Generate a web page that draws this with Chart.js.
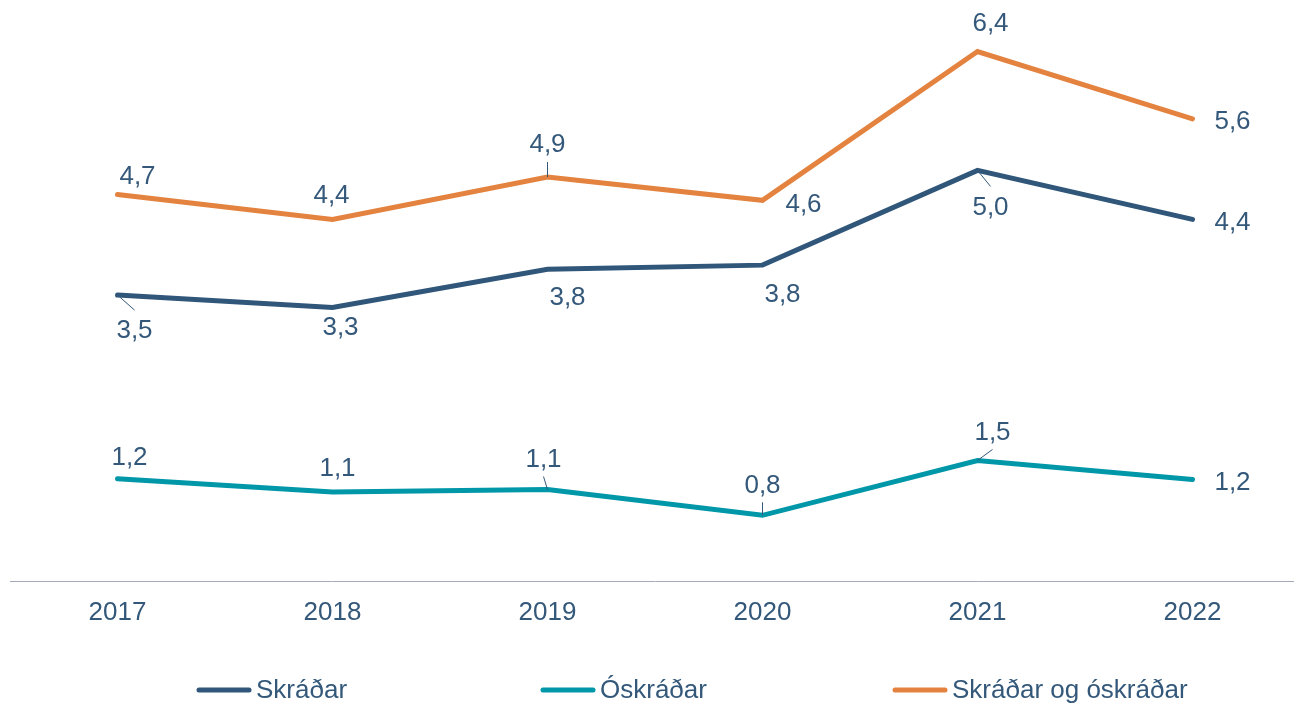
<!DOCTYPE html>
<html><head><meta charset="utf-8">
<script src="https://cdn.jsdelivr.net/npm/chart.js@4.4.0/dist/chart.umd.min.js"></script>
<style>html,body{margin:0;padding:0;overflow:hidden;background:#fff}#wrap{width:1300px;height:703px}</style>
</head><body><div id="wrap"><canvas id="c" width="1300" height="703"></canvas></div>
<script>
// ---- data ----
const years = ['2017', '2018', '2019', '2020', '2021', '2022'];
const skradar = [3.45, 3.30, 3.76, 3.81, 4.95, 4.36];
const oskradar = [1.24, 1.08, 1.11, 0.80, 1.46, 1.23];
const samtals = [4.66, 4.36, 4.87, 4.59, 6.38, 5.57];
const seriesNames = ['Skráðar', 'Óskráðar', 'Skráðar og óskráðar'];
const yMin = 0, yMax = 7;

// ---- style / layout ----
const FONT = '"Liberation Sans", Arial, sans-serif';
const FS = 26;
const TEXT = '#34587a';
const colors = ['#305679', '#0097a9', '#e3833f'];
// label centre offsets from point [dx, dy, leader]
const labelLayout = [
  [[17, 34, 1], [8, 18, 0], [20, 26, 0], [20, 28, 0], [13, 35, 1], [40, 1, 0]],
  [[12, -23, 0], [5, -25, 0], [-4, -32, 1], [0, -32, 1], [15, -30, 1], [40, 1, 0]],
  [[20, -20, 0], [-1, -26, 0], [0, -34, 1], [41, 2, 0], [13, -30, 0], [40, 1, 0]]
];
const legendX = [197, 541, 893];
const legendY = 690;

const fmt = v => (Math.round(v * 10) / 10).toFixed(1).replace('.', ',');

const labelPlugin = {
  id: 'labels',
  afterDatasetsDraw(chart) {
    const ctx = chart.ctx;
    ctx.save();
    ctx.font = FS + 'px ' + FONT;
    ctx.textAlign = 'center';
    ctx.textBaseline = 'alphabetic';
    chart.data.datasets.forEach((ds, di) => {
      const meta = chart.getDatasetMeta(di);
      meta.data.forEach((pt, i) => {
        const [dx, dy, leader] = labelLayout[di][i];
        const lx = pt.x + dx, ly = pt.y + dy;
        if (leader) {
          const edge = dy > 0 ? ly - 19 : ly + 19;
          ctx.strokeStyle = TEXT;
          ctx.lineWidth = 1;
          ctx.beginPath();
          ctx.moveTo(pt.x, pt.y);
          ctx.lineTo(lx, edge);
          ctx.stroke();
        }
        ctx.fillStyle = TEXT;
        ctx.fillText(fmt(ds.data[i]), lx, ly + FS * 0.358);
      });
    });
    ctx.restore();
  },
  afterDraw(chart) {
    const ctx = chart.ctx;
    ctx.save();
    ctx.font = FS + 'px ' + FONT;
    ctx.textBaseline = 'alphabetic';
    ctx.textAlign = 'left';
    chart.data.datasets.forEach((ds, di) => {
      const x = legendX[di];
      ctx.strokeStyle = ds.borderColor;
      ctx.lineWidth = 5;
      ctx.lineCap = 'round';
      ctx.beginPath();
      ctx.moveTo(x + 2, legendY);
      ctx.lineTo(x + 52, legendY);
      ctx.stroke();
      ctx.fillStyle = TEXT;
      ctx.fillText(ds.label, x + 59, legendY + 8);
    });
    ctx.restore();
  }
};

const mk = (label, data, color) => ({
  label, data, borderColor: color, backgroundColor: color,
  borderWidth: 5, pointRadius: 0, pointHoverRadius: 0,
  borderCapStyle: 'round', borderJoinStyle: 'miter', tension: 0, fill: false
});

new Chart(document.getElementById('c'), {
  type: 'line',
  data: {
    labels: years,
    datasets: [
      mk(seriesNames[0], skradar, colors[0]),
      mk(seriesNames[1], oskradar, colors[1]),
      mk(seriesNames[2], samtals, colors[2])
    ]
  },
  options: {
    responsive: false,
    animation: false,
    layout: { padding: { left: 10, right: 0, top: 0, bottom: 60 } },
    plugins: { legend: { display: false }, tooltip: { enabled: false } },
    scales: {
      x: {
        offset: true,
        grid: { display: false, drawTicks: false },
        border: { display: true, color: '#a3abb8', width: 1 },
        ticks: { color: TEXT, font: { family: FONT, size: FS }, padding: 15, maxRotation: 0 }
      },
      y: {
        display: false,
        min: yMin, max: yMax
      }
    }
  },
  plugins: [labelPlugin]
});
</script>
</body></html>
